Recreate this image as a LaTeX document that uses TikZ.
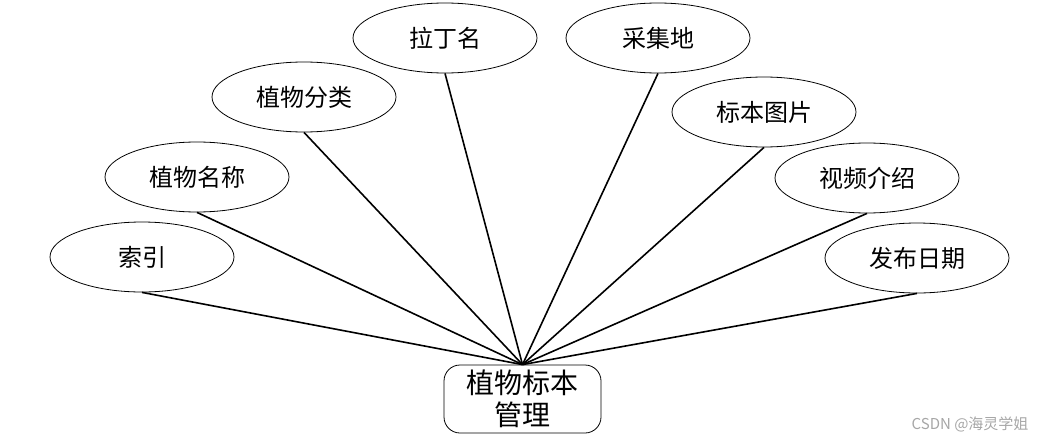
\documentclass[tikz,border=0pt]{standalone}
\usepackage{fontspec}
\setmainfont{Noto Sans CJK SC}
\newfontfamily\cjk{Noto Sans CJK SC}
\usetikzlibrary{shapes.geometric}
\begin{document}
\begin{tikzpicture}[x=1pt,y=-1pt,
  attr/.style={draw,line width=0.8pt,ellipse,minimum width=184pt,minimum height=70pt,inner sep=0pt,font=\cjk\fontsize{24}{28}\selectfont},
  ent/.style={draw,line width=0.8pt,rounded corners=16pt,minimum width=157pt,minimum height=68pt,inner sep=0pt,align=center,font=\cjk\fontsize{28}{32}\selectfont},
  link/.style={line width=1.6pt}]
\useasboundingbox (0,0) rectangle (1047,442);
\node[ent] (m) at (522.5,399) {植物标本\\管理};
\node[attr] (a1) at (142,257) {索引};
\node[attr] (a2) at (197,177) {植物名称};
\node[attr] (a3) at (304,97) {植物分类};
\node[attr] (a4) at (445,38) {拉丁名};
\node[attr] (a5) at (658,38) {采集地};
\node[attr] (a6) at (764,112) {标本图片};
\node[attr] (a7) at (867,178) {视频介绍};
\node[attr] (a8) at (917,258) {发布日期};
\foreach \i in {1,...,8} \draw[link] (a\i.south) -- (m.north);
\node[text=gray!70,font=\cjk\fontsize{15}{18}\selectfont,anchor=east] (wm) at (1032,424) {CSDN @海灵学姐};
\end{tikzpicture}
\end{document}
